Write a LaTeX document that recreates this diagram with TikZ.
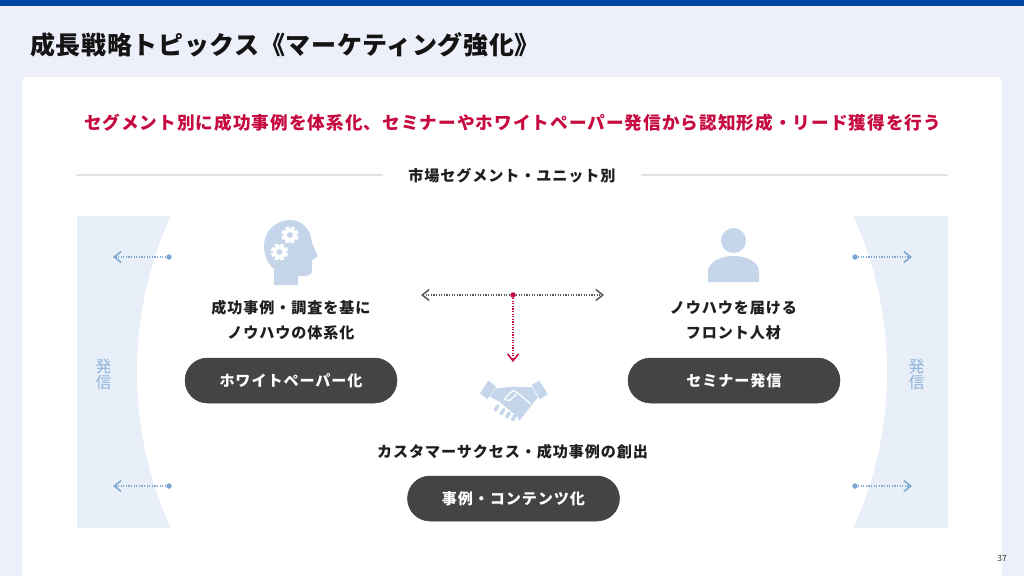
\documentclass[tikz,border=0pt]{standalone}
\usepackage{fontspec}
\setmainfont{Noto Sans CJK JP}
\newfontfamily\spaced{Noto Sans CJK JP}[LetterSpace=6]
\newfontfamily\titlefont{Noto Sans CJK JP}[LetterSpace=2.6]
\usetikzlibrary{arrows.meta}
\definecolor{pagebg}{HTML}{EDF0FB}
\definecolor{topbar}{HTML}{0047A5}
\definecolor{panelblue}{HTML}{E9EFF9}
\definecolor{iconblue}{HTML}{C5D6EA}
\definecolor{arrowblue}{HTML}{7FA8D0}
\definecolor{sendblue}{HTML}{8DB2D8}
\definecolor{keyred}{HTML}{C6093F}
\definecolor{pilldark}{HTML}{444444}
\definecolor{rulegrey}{HTML}{DFE2E6}
\tikzset{
  label text/.style={font=\spaced\bfseries\fontsize{15.1}{25}\selectfont, text=black!88, align=center, inner sep=0pt},
  pill/.style={rounded corners=22.5pt, fill=pilldark, draw=black!75, line width=0.5pt, minimum width=212pt, minimum height=45pt, inner sep=0pt, text=white, font=\spaced\bfseries\fontsize{15.1}{16}\selectfont},
  send text/.style={font=\fontsize{16}{16}\selectfont, text=sendblue, align=center, inner sep=0pt},
  blue dot/.style={circle, fill=arrowblue, inner sep=0pt, minimum size=5.5pt},
  red dot/.style={circle, fill=keyred, inner sep=0pt, minimum size=5.5pt},
  dot line/.style={dash pattern=on 1.3pt off 1.3pt, line width=1.3pt, -{Straight Barb[length=7pt, width=11pt, line width=1.5pt]}},
  gear/.pic={
    \fill[white] (0,0) circle (6.6);
    \foreach \a in {0,45,...,135}
      \fill[white, rotate=\a+22] (-1.9,-8.6) rectangle (1.9,8.6);
    \fill[iconblue] (0,0) circle (3);
  }
}
\begin{document}
\begin{tikzpicture}[x=1pt, y=-1pt]
  \useasboundingbox (0,0) rectangle (1024,576);
  \fill[pagebg] (0,0) rectangle (1024,576);
  \fill[topbar] (0,0) rectangle (1024,6);
  \fill[white, rounded corners=5pt] (22,77) rectangle (1002,590);
  % side panels
  \fill[panelblue] (77,216) rectangle (948,528);
  \begin{scope}
    \clip (77,216) rectangle (948,528);
    \fill[white] (512,372) circle (375);
  \end{scope}
  \node[anchor=west, inner sep=0pt, font=\titlefont\bfseries\fontsize{25}{25}\selectfont, text=black!92] (title) at (30,45) {成長戦略トピックス《マーケティング強化》};
  \node[inner sep=0pt, font=\spaced\bfseries\fontsize{17.6}{20}\selectfont, text=keyred] (lead) at (512.5,122.5) {セグメント別に成功事例を体系化、セミナーやホワイトペーパー発信から認知形成・リード獲得を行う};
  \node[label text] (axis) at (512,175.5) {市場セグメント・ユニット別};
  \coordinate (rule-l) at (76,175);
  \coordinate (rule-li) at (383,175);
  \coordinate (rule-ri) at (641,175);
  \coordinate (rule-r) at (948,175);
  \draw[rulegrey, line width=1.2pt] (rule-l) -- (rule-li);
  \draw[rulegrey, line width=1.2pt] (rule-ri) -- (rule-r);
  % head icon
  \fill[iconblue] (274,285) -- (274,269) .. controls (267,263) and (264,255) .. (264,246)
    .. controls (264,231) and (276,220) .. (290,220) .. controls (303,220) and (311,230) .. (312,243)
    -- (317,254) -- (317,257) -- (312,260) -- (312,270) .. controls (312,274) and (309,276) .. (306,276)
    -- (298,276) -- (298,285) -- cycle;
  \pic at (290,235) {gear};
  \pic at (279.5,252) {gear};
  % person icon
  \fill[iconblue] (733.5,240.5) circle (12.5);
  \fill[iconblue] (708,282) -- (708,272) .. controls (708,262) and (720,256) .. (733.5,256)
    .. controls (747,256) and (759,262) .. (759,272) -- (759,282) -- cycle;
  % handshake icon
  \begin{scope}[shift={(400,270)}, x=0.3333pt, y=-0.3333pt]
    \fill[iconblue] (240,370) -- (265,332) -- (288,350) -- (262,388) -- cycle;
    \fill[iconblue] (395,345) -- (418,332) -- (443,372) -- (420,388) -- cycle;
    \fill[iconblue] (287,355) -- (340,350) -- (397,352) -- (413,383) -- (395,405) -- (358,453)
      -- (352,440) -- (298,395) -- (270,380) -- cycle;
    \draw[white, line width=1.2pt, line join=round] (312,388) -- (338,362) -- (352,368) -- (392,402);
    \draw[white, line width=1.2pt, line join=round] (312,388) -- (328,392) -- (350,372);
    \foreach \fx/\fy in {286/420,304/431,321/441,338/449}
      \draw[iconblue, line width=3.6pt, line cap=round, preaction={draw, white, line width=4.6pt}] (\fx,\fy) -- ++(7,-12);
  \end{scope}
  % texts
  \node[label text] (know) at (291,320) {成功事例・調査を基に\\ノウハウの体系化};
  \node[label text] (front) at (733.5,320) {ノウハウを届ける\\フロント人材};
  \node[label text] (cs) at (512.5,451.5) {カスタマーサクセス・成功事例の創出};
  \node[pill] (pill-1) at (291,380.5) {ホワイトペーパー化};
  \node[pill] (pill-2) at (734,380.5) {セミナー発信};
  \node[pill] (pill-3) at (513.5,498.5) {事例・コンテンツ化};
  \node[send text] (send-l) at (103.5,374) {発\\信};
  \node[send text] (send-r) at (916.5,374) {発\\信};
  % outward arrows
  \foreach \x/\tx/\y [count=\i] in {169/113/257, 169/113/486, 855/912/257, 855/912/486} {
    \node[blue dot] (out-\i) at (\x,\y) {};
    \coordinate (tip-\i) at (\tx,\y);
    \draw[dot line, arrowblue] (out-\i) -- (tip-\i);
  }
  % centre axis
  \node[red dot] (hub) at (513,295) {};
  \coordinate (hub-l) at (421,295);
  \coordinate (hub-r) at (604,295);
  \coordinate (hub-d) at (513,362);
  \draw[dot line, black!65] (hub) -- (hub-l);
  \draw[dot line, black!65] (hub) -- (hub-r);
  \draw[dot line, keyred] (hub) -- (hub-d);
  \node[font=\fontsize{8.5}{10}\selectfont, text=black!80, inner sep=0pt] (pageno) at (1002,558) {37};
\end{tikzpicture}
\end{document}
